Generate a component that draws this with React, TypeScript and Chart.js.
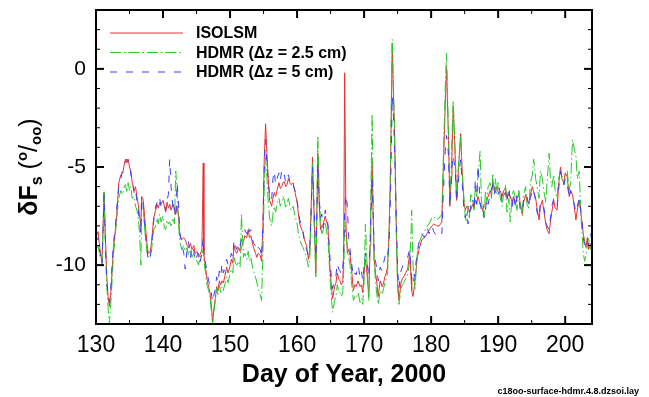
import React, { useEffect, useRef } from 'react';
import { Chart, registerables } from 'chart.js';

Chart.register(...registerables);

const days = [
  130.0, 130.3, 130.6, 130.9, 131.1, 131.2, 131.4, 131.6, 131.8, 132.0,
  132.2, 132.4, 132.6, 132.9, 133.1, 133.4, 133.7, 134.0, 134.2, 134.4,
  134.6, 134.8, 135.0, 135.2, 135.4, 135.7, 135.9, 136.1, 136.3, 136.5,
  136.7, 136.8, 137.0, 137.1, 137.3, 137.6, 137.8, 138.1, 138.3, 138.6,
  138.9, 139.1, 139.3, 139.5, 139.7, 140.0, 140.2, 140.4, 140.6, 140.8,
  141.0, 141.2, 141.5, 141.7, 141.9, 142.1, 142.3, 142.5, 142.8, 143.1,
  143.3, 143.6, 143.8, 144.1, 144.3, 144.6, 144.8, 145.1, 145.3, 145.5,
  145.8, 146.0, 146.1, 146.3, 146.5, 146.8, 147.0, 147.2, 147.4, 147.6,
  147.8, 148.0, 148.2, 148.4, 148.6, 148.8, 149.0, 149.2, 149.5, 149.7,
  149.9, 150.2, 150.4, 150.6, 150.8, 151.0, 151.3, 151.5, 151.7, 152.0,
  152.2, 152.5, 152.7, 152.9, 153.1, 153.3, 153.5, 153.8, 154.0, 154.2,
  154.5, 154.7, 154.9, 155.1, 155.3, 155.5, 155.7, 155.9, 156.2, 156.4,
  156.6, 156.8, 157.0, 157.3, 157.5, 157.7, 157.9, 158.1, 158.3, 158.5,
  158.7, 158.9, 159.1, 159.4, 159.7, 160.0, 160.2, 160.4, 160.7, 160.9,
  161.1, 161.4, 161.7, 161.9, 162.1, 162.3, 162.5, 162.6, 162.8, 162.95,
  163.1, 163.3, 163.5, 163.7, 163.9, 164.2, 164.4, 164.6, 164.9, 165.1,
  165.3, 165.6, 165.8, 166.0, 166.2, 166.4, 166.6, 166.8, 166.95, 167.1,
  167.3, 167.5, 167.7, 167.9, 168.1, 168.4, 168.6, 168.8, 169.1, 169.4,
  169.6, 169.8, 170.0, 170.2, 170.4, 170.7, 170.9, 171.0, 171.2, 171.35,
  171.5, 171.7, 171.9, 172.1, 172.4, 172.7, 172.9, 173.1, 173.3, 173.5,
  173.7, 173.9, 174.05, 174.2, 174.35, 174.5, 174.65, 174.8, 175.0, 175.2,
  175.5, 175.7, 175.9, 176.2, 176.5, 176.8, 177.0, 177.1, 177.3, 177.6,
  177.9, 178.2, 178.6, 179.0, 179.4, 179.7, 180.1, 180.4, 180.8, 181.2,
  181.6, 181.8, 182.1, 182.3, 182.5, 182.6, 182.8, 183.0, 183.1, 183.3,
  183.45, 183.6, 183.8, 184.1, 184.4, 184.6, 184.9, 185.1, 185.3, 185.5,
  185.7, 185.9, 186.2, 186.4, 186.6, 186.8, 187.0, 187.3, 187.5, 187.7,
  187.9, 188.1, 188.3, 188.5, 188.8, 189.0, 189.2, 189.4, 189.6, 189.8,
  190.0, 190.3, 190.6, 190.8, 191.1, 191.3, 191.6, 191.8, 192.1, 192.3,
  192.6, 192.8, 193.1, 193.3, 193.6, 193.8, 194.1, 194.3, 194.6, 194.8,
  195.1, 195.3, 195.6, 195.8, 196.1, 196.3, 196.6, 196.8, 197.1, 197.3,
  197.6, 197.8, 198.0, 198.3, 198.5, 198.8, 199.0, 199.3, 199.5, 199.8,
  200.0, 200.3, 200.6, 200.8, 201.1, 201.3, 201.6, 201.8, 202.1, 202.4,
  202.7, 202.9, 203.1, 203.3, 203.5, 203.8, 204.0,
];

const isolsm = [
  -8.6, -8.3, -9.2, -9.9, -7.5, -6.3, -8.5, -10.5, -11.6, -12.1,
  -11.5, -10.3, -9.1, -8.2, -7.4, -5.8, -5.4, -5.3, -4.9, -4.6,
  -4.8, -4.6, -5.0, -5.2, -5.8, -6.2, -6.0, -6.5, -6.9, -7.5,
  -8.0, -6.5, -6.6, -6.9, -7.7, -8.9, -9.4, -9.3, -8.8, -7.6,
  -7.2, -6.9, -7.1, -6.8, -6.9, -6.7, -7.0, -7.3, -6.8, -7.1,
  -6.9, -7.2, -6.9, -7.2, -7.4, -7.0, -7.4, -8.5, -8.7, -8.6,
  -8.7, -9.0, -9.1, -8.9, -9.2, -9.0, -9.4, -9.3, -9.6, -9.5,
  -9.2, -4.8, -9.5, -10.0, -10.6, -11.1, -11.4, -12.0, -12.9, -12.2,
  -11.7, -11.1, -11.3, -10.8, -11.0, -10.8, -10.9, -10.6, -10.1, -10.4,
  -10.2, -9.7, -9.9, -9.0, -9.3, -9.4, -9.1, -9.3, -9.1, -8.8,
  -8.5, -8.6, -8.2, -8.6, -8.5, -8.8, -9.1, -9.4, -9.6, -9.4,
  -9.5, -9.8, -8.0, -4.6, -2.8, -4.3, -5.6, -6.7, -7.0, -6.6,
  -6.3, -6.5, -6.2, -5.8, -6.1, -6.0, -5.8, -5.75, -6.0, -5.9,
  -5.6, -5.8, -5.9, -5.8, -6.3, -6.8, -7.4, -7.9, -8.2, -8.3,
  -8.7, -9.0, -9.7, -9.2, -7.0, -4.5, -7.0, -8.0, -10.4, -7.5,
  -4.3, -6.9, -8.2, -8.0, -7.9, -7.5, -7.8, -8.0, -10.1, -11.0,
  -11.7, -11.1, -10.9, -10.4, -10.7, -10.8, -11.0, -10.9, -9.7, -0.2,
  -8.0, -9.4, -9.2, -9.5, -10.1, -11.3, -11.0, -11.1, -10.8, -11.1,
  -11.0, -11.4, -10.4, -9.7, -10.3, -11.6, -9.0, -7.4, -4.7, -7.5,
  -9.7, -10.4, -10.9, -11.6, -10.8, -11.1, -10.9, -10.6, -10.4, -10.1,
  -8.5, -6.0, -2.5, 1.3, -1.0, -2.6, -5.0, -8.0, -10.8, -11.8,
  -10.9, -10.7, -10.6, -10.4, -10.2, -9.4, -10.6, -11.3, -11.6, -10.8,
  -9.7, -9.2, -8.7, -8.6, -8.4, -8.2, -8.0, -7.9, -8.0, -8.0,
  -7.8, -5.3, -1.9, 0.1, -2.5, -3.6, -7.0, -5.5, -4.5, -1.9,
  -3.2, -4.6, -6.7, -5.0, -3.3, -5.0, -6.85, -7.2, -7.0, -7.0,
  -7.3, -7.2, -6.9, -7.1, -6.7, -6.8, -6.5, -6.9, -7.0, -7.2,
  -6.9, -6.9, -6.7, -6.5, -6.2, -6.4, -5.7, -6.1, -6.3, -6.0,
  -6.1, -6.2, -6.5, -6.2, -6.1, -6.6, -6.35, -6.5, -6.8, -6.5,
  -6.9, -6.6, -6.4, -6.9, -7.4, -6.8, -6.4, -6.7, -6.85, -6.4,
  -6.0, -6.3, -6.6, -7.1, -7.7, -7.0, -6.7, -7.2, -7.9, -8.2,
  -8.4, -7.8, -7.3, -6.7, -7.1, -7.2, -6.0, -5.0, -5.6, -5.8,
  -5.3, -5.5, -6.5, -6.2, -6.4, -6.9, -7.7, -7.2, -6.7, -7.5,
  -8.4, -8.8, -9.1, -8.6, -9.2, -8.9, -9.4,
];

const hdmr25 = [
  -9.2, -9.0, -9.6, -9.8, -7.8, -6.2, -9.0, -11.0, -12.2, -13.0,
  -12.0, -10.8, -9.5, -8.4, -7.6, -6.6, -6.2, -6.4, -6.0, -5.9,
  -6.3, -5.8, -6.2, -6.0, -6.6, -6.5, -7.0, -7.2, -7.6, -8.4,
  -10.0, -7.0, -6.8, -7.4, -8.3, -9.3, -9.6, -9.5, -9.2, -8.2,
  -8.0, -7.6, -7.9, -7.4, -7.8, -7.5, -8.1, -8.2, -7.7, -7.9,
  -7.8, -8.0, -7.6, -7.9, -5.2, -6.2, -7.8, -8.8, -9.2, -9.0,
  -9.3, -9.1, -9.5, -9.2, -9.6, -9.4, -9.7, -9.8, -10.0, -9.6,
  -9.5, -9.2, -9.8, -10.3, -10.9, -11.3, -11.6, -12.3, -13.0, -12.4,
  -11.8, -11.2, -11.5, -11.0, -11.4, -11.1, -11.3, -11.0, -10.6, -10.9,
  -10.6, -10.2, -10.4, -9.6, -9.9, -10.0, -9.8, -10.1, -7.4, -9.6,
  -9.4, -9.7, -9.3, -9.8, -9.6, -10.0, -10.3, -10.6, -10.9, -11.2,
  -11.5, -11.8, -9.5, -6.0, -4.5, -5.5, -6.8, -7.6, -8.0, -7.4,
  -7.0, -7.3, -6.9, -6.6, -7.0, -6.8, -6.5, -6.7, -7.1, -6.9,
  -6.6, -6.9, -7.2, -7.0, -7.5, -7.9, -8.4, -8.7, -9.0, -9.1,
  -9.3, -9.6, -10.1, -9.6, -7.5, -4.8, -7.4, -8.6, -10.6, -7.0,
  -3.4, -6.4, -7.8, -8.4, -8.2, -7.8, -8.3, -8.6, -10.6, -11.6,
  -12.4, -11.8, -11.6, -11.0, -11.3, -11.4, -11.6, -11.4, -10.4, -7.8,
  -8.6, -9.0, -9.6, -10.0, -10.8, -11.8, -11.6, -11.7, -11.4, -11.9,
  -11.7, -12.0, -10.8, -7.9, -9.6, -11.8, -8.6, -6.4, -2.3, -6.6,
  -9.8, -10.8, -11.5, -12.0, -11.3, -11.5, -11.2, -10.9, -10.7, -10.4,
  -8.8, -5.6, -1.8, 1.5, -0.6, -2.4, -5.2, -8.4, -11.2, -12.0,
  -11.2, -11.0, -10.9, -10.7, -10.5, -9.8, -8.4, -7.2, -10.0, -11.2,
  -9.5, -8.9, -8.5, -8.3, -8.0, -7.9, -7.6, -7.5, -7.7, -7.6,
  -7.4, -4.8, -1.0, 0.8, -2.0, -3.4, -6.8, -5.0, -3.6, -1.6,
  -3.0, -4.4, -6.4, -4.8, -3.4, -5.2, -6.6, -7.6, -7.8, -7.0,
  -7.6, -6.4, -6.6, -7.2, -6.0, -6.5, -5.4, -4.2, -6.6, -7.4,
  -7.6, -6.2, -6.8, -6.0, -5.8, -6.6, -5.4, -6.2, -5.6, -6.4,
  -5.8, -6.5, -7.0, -6.4, -5.9, -7.3, -6.6, -7.8, -6.4, -6.2,
  -6.6, -7.2, -6.2, -6.8, -7.5, -6.4, -6.0, -6.9, -7.1, -5.8,
  -5.4, -4.6, -5.6, -6.0, -6.6, -5.2, -5.6, -6.2, -6.8, -5.8,
  -4.3, -5.6, -6.0, -5.4, -6.2, -6.6, -5.6, -5.2, -5.4, -5.9,
  -5.6, -5.2, -6.2, -5.8, -3.6, -4.0, -4.4, -5.6, -5.2, -7.8,
  -9.4, -9.8, -9.5, -9.0, -8.6, -9.2, -9.0,
];

const hdmr5 = [
  -8.8, -8.6, -9.4, -10.0, -7.6, -6.4, -8.8, -10.8, -11.5, -11.9,
  -11.2, -10.0, -8.9, -8.0, -7.1, -6.0, -5.6, -5.1, -5.0, -4.7,
  -4.6, -4.7, -4.8, -5.4, -5.6, -6.4, -6.2, -6.7, -7.2, -7.8,
  -8.4, -6.6, -6.8, -7.3, -8.2, -9.2, -9.8, -9.6, -8.9, -7.8,
  -7.0, -6.8, -6.9, -6.6, -7.0, -6.8, -6.9, -7.2, -6.7, -6.4,
  -4.6, -6.0, -7.2, -7.0, -7.6, -5.8, -6.8, -8.3, -8.9, -9.4,
  -10.2, -9.2, -8.8, -9.6, -9.0, -9.3, -9.8, -9.5, -9.4, -9.9,
  -9.4, -8.6, -9.6, -9.8, -10.2, -10.8, -11.0, -11.4, -11.9, -11.5,
  -11.2, -10.6, -10.9, -10.3, -10.6, -9.9, -10.4, -10.2, -9.7, -10.0,
  -9.8, -9.4, -9.6, -8.7, -9.0, -9.2, -8.8, -9.0, -8.7, -8.5,
  -8.2, -8.4, -8.0, -8.3, -8.2, -8.6, -8.9, -9.0, -9.3, -9.1,
  -9.2, -9.6, -8.0, -5.0, -3.6, -4.8, -5.8, -6.4, -6.7, -5.6,
  -5.2, -5.9, -5.6, -5.3, -5.7, -5.2, -5.5, -5.4, -5.8, -5.5,
  -5.4, -5.7, -5.6, -5.9, -6.2, -6.7, -7.2, -7.7, -8.0, -8.4,
  -8.8, -9.2, -9.5, -9.0, -7.2, -5.0, -6.8, -7.6, -9.6, -7.6,
  -4.8, -6.6, -7.6, -7.4, -8.1, -7.2, -7.6, -7.9, -9.6, -10.6,
  -11.2, -10.8, -10.5, -9.9, -10.2, -10.3, -10.5, -10.2, -9.4, -7.2,
  -6.4, -7.0, -8.6, -9.2, -9.8, -10.6, -10.4, -10.5, -10.0, -10.6,
  -10.3, -10.8, -10.0, -9.4, -9.8, -10.6, -8.8, -7.6, -5.6, -7.4,
  -9.2, -9.8, -10.2, -10.8, -10.1, -10.3, -9.9, -9.6, -9.3, -9.5,
  -9.0, -7.0, -4.4, -1.4, -2.2, -3.6, -5.6, -7.6, -10.2, -11.2,
  -10.3, -10.1, -9.9, -9.7, -9.6, -9.2, -10.2, -10.8, -11.0, -10.3,
  -9.4, -8.8, -8.4, -8.6, -8.1, -8.4, -8.0, -8.3, -8.5, -8.3,
  -8.4, -6.6, -4.2, -3.4, -4.0, -4.5, -7.0, -5.8, -5.0, -4.4,
  -4.8, -5.2, -6.8, -5.6, -4.6, -5.6, -7.2, -7.6, -7.3, -7.9,
  -7.5, -7.0, -6.6, -7.2, -5.6, -6.9, -4.9, -6.8, -7.2, -7.0,
  -7.6, -7.2, -6.6, -6.9, -6.4, -6.2, -5.9, -6.4, -6.0, -6.3,
  -6.4, -6.0, -6.8, -6.5, -6.3, -6.8, -6.0, -6.7, -7.0, -6.4,
  -7.1, -6.4, -6.6, -7.2, -7.3, -6.6, -6.7, -6.5, -7.0, -6.6,
  -6.2, -6.1, -6.8, -7.3, -7.6, -6.8, -6.9, -7.0, -7.8, -8.0,
  -8.2, -7.6, -7.0, -6.6, -6.9, -7.0, -6.2, -5.2, -5.5, -5.9,
  -5.6, -5.8, -6.6, -6.2, -6.5, -6.8, -7.3, -7.0, -6.6, -7.4,
  -8.6, -9.0, -8.7, -8.8, -9.0, -8.4, -8.8,
];

const seriesNames = ['ISOLSM', 'HDMR (\u0394z = 2.5 cm)', 'HDMR (\u0394z = 5 cm)'];
const xMajorTicks = [130, 140, 150, 160, 170, 180, 190, 200];
const xMinorTicks = [135, 145, 155, 165, 175, 185, 195];
const yMajorTicks = [-10, -5, 0];
const yMinorTicks = [-12, -11, -9, -8, -7, -6, -4, -3, -2, -1, 1, 2];
const xTitle = 'Day of Year, 2000';
const footnote = 'c18oo-surface-hdmr.4.8.dzsoi.lay';

const FONT = '"Liberation Sans", Arial, Helvetica, sans-serif';

const decorPlugin = {
  id: 'decor',
  afterDraw(chart: any) {
    const { ctx, chartArea } = chart;
    const { left, right, top, bottom } = chartArea;
    const xs = chart.scales.x;
    const ys = chart.scales.y;
    ctx.save();
    ctx.strokeStyle = '#000';
    ctx.setLineDash([]);
    ctx.lineWidth = 2;
    ctx.strokeRect(left, top, right - left, bottom - top);
    const tick = (x1: number, y1: number, x2: number, y2: number, w: number) => {
      ctx.lineWidth = w;
      ctx.beginPath();
      ctx.moveTo(x1, y1);
      ctx.lineTo(x2, y2);
      ctx.stroke();
    };
    xMajorTicks.forEach((v) => {
      const p = xs.getPixelForValue(v);
      tick(p, bottom, p, bottom - 8, 2);
      tick(p, top, p, top + 8, 2);
    });
    xMinorTicks.forEach((v) => {
      const p = xs.getPixelForValue(v);
      tick(p, bottom, p, bottom - 4, 1);
      tick(p, top, p, top + 4, 1);
    });
    yMajorTicks.forEach((v) => {
      const p = ys.getPixelForValue(v);
      tick(left, p, left + 8, p, 2);
      tick(right, p, right - 8, p, 2);
    });
    yMinorTicks.forEach((v) => {
      const p = ys.getPixelForValue(v);
      tick(left, p, left + 4, p, 1);
      tick(right, p, right - 4, p, 1);
    });

    // legend
    chart.data.datasets.forEach((ds: any, i: number) => {
      const y = 33 + i * 19.5;
      ctx.strokeStyle = ds.borderColor;
      ctx.lineWidth = 1;
      ctx.setLineDash(ds.borderDash || []);
      ctx.beginPath();
      ctx.moveTo(110, y);
      ctx.lineTo(183, y);
      ctx.stroke();
      ctx.setLineDash([]);
      ctx.fillStyle = '#000';
      ctx.font = `bold 16px ${FONT}`;
      ctx.textAlign = 'left';
      ctx.textBaseline = 'middle';
      ctx.fillText(seriesNames[i], 196, y + 1);
    });

    // x title
    ctx.fillStyle = '#000';
    ctx.font = `bold 25px ${FONT}`;
    ctx.textAlign = 'center';
    ctx.textBaseline = 'alphabetic';
    ctx.fillText(xTitle, (left + right) / 2, 382);

    // footnote
    ctx.font = `bold 9px ${FONT}`;
    ctx.textAlign = 'right';
    ctx.fillText(footnote, 639, 394);

    // y title (rotated composite)
    const parts = [
      { t: '\u03B4F', f: `bold 25px ${FONT}`, dy: 0 },
      { t: 's', f: `bold 16px ${FONT}`, dy: 5 },
      { t: ' (', f: `25px ${FONT}`, dy: 0 },
      { t: 'o', f: `bold 15px ${FONT}`, dy: -10 },
      { t: '/', f: `25px ${FONT}`, dy: 0 },
      { t: 'oo', f: `bold 15px ${FONT}`, dy: 4 },
      { t: ')', f: `25px ${FONT}`, dy: 0 },
    ];
    let total = 0;
    const widths = parts.map((p) => {
      ctx.font = p.f;
      const w = ctx.measureText(p.t).width;
      total += w;
      return w;
    });
    ctx.translate(37, (top + bottom) / 2);
    ctx.rotate(-Math.PI / 2);
    ctx.textAlign = 'left';
    ctx.textBaseline = 'alphabetic';
    let cx = -total / 2;
    parts.forEach((p, i) => {
      ctx.font = p.f;
      ctx.fillText(p.t, cx, p.dy);
      cx += widths[i];
    });
    ctx.restore();
  },
};

export default function App() {
  const ref = useRef<HTMLCanvasElement | null>(null);
  useEffect(() => {
    if (!ref.current) return;
    const mk = (vals: number[]) => days.map((d, i) => ({ x: d, y: vals[i] }));
    const chart = new Chart(ref.current, {
      type: 'line',
      data: {
        datasets: [
          { label: seriesNames[0], data: mk(isolsm), borderColor: 'rgb(232,48,48)', borderWidth: 1, pointRadius: 0, tension: 0, order: 3 },
          { label: seriesNames[1], data: mk(hdmr25), borderColor: 'rgb(40,200,40)', borderWidth: 1, borderDash: [11, 3, 1.5, 3], pointRadius: 0, tension: 0, order: 2 },
          { label: seriesNames[2], data: mk(hdmr5), borderColor: 'rgb(60,60,255)', borderWidth: 1, borderDash: [7, 9], pointRadius: 0, tension: 0, order: 1 },
        ],
      },
      options: {
        animation: false,
        responsive: false,
        devicePixelRatio: 1,
        layout: { padding: { left: 0, right: 57, top: 10, bottom: 0 } },
        plugins: { legend: { display: false }, tooltip: { enabled: false } },
        scales: {
          x: {
            type: 'linear',
            min: 130,
            max: 204,
            grid: { display: false, drawTicks: false },
            border: { display: false },
            afterBuildTicks: (s: any) => { s.ticks = xMajorTicks.map((v) => ({ value: v })); },
            afterFit: (s: any) => { s.height = 73; s.paddingLeft = 0; s.paddingRight = 0; s.paddingTop = 0; s.paddingBottom = 0; },
            ticks: {
              color: '#000',
              font: { family: FONT, size: 23 },
              padding: 8,
              maxRotation: 0,
              autoSkip: false,
              callback: (v: any) => String(v),
            },
          },
          y: {
            type: 'linear',
            min: -13,
            max: 3,
            grid: { display: false, drawTicks: false },
            border: { display: false },
            afterBuildTicks: (s: any) => { s.ticks = yMajorTicks.map((v) => ({ value: v })); },
            afterFit: (s: any) => { s.width = 96; s.paddingLeft = 0; s.paddingRight = 0; s.paddingTop = 0; s.paddingBottom = 0; },
            ticks: {
              color: '#000',
              font: { family: FONT, size: 21 },
              padding: 10,
              autoSkip: false,
              callback: (v: any) => String(v),
            },
          },
        },
      },
      plugins: [decorPlugin],
    });
    return () => chart.destroy();
  }, []);
  return (
    <div style={{ position: 'absolute', left: 0, top: 0, width: 649, height: 397, background: '#fff' }}>
      <canvas ref={ref} width={649} height={397} style={{ display: 'block' }} />
    </div>
  );
}
